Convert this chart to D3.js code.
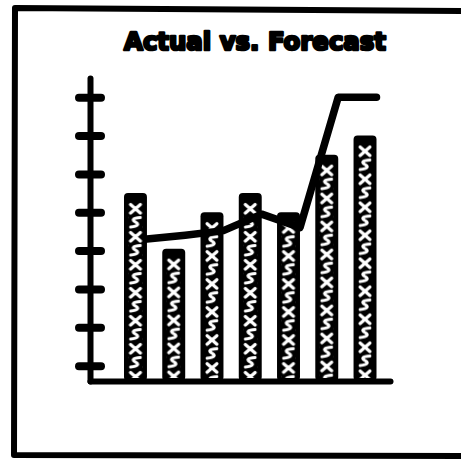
<!DOCTYPE html>
<html>
<head>
<meta charset="utf-8">
<script src="https://cdn.jsdelivr.net/npm/d3@7"></script>
<style>
  html, body { margin: 0; padding: 0; background: #fff; }
  svg { display: block; }
</style>
</head>
<body>
<script>
// Chart data
const title = "Actual vs. Forecast";
const periods = ["P1", "P2", "P3", "P4", "P5", "P6", "P7"];
const actual = [5.5, 4.05, 5.0, 5.5, 5.0, 6.5, 7.0];
const forecast = [4.3, 4.4, 4.52, 4.95, 4.6, 8.0, 8.0];
const tickValues = [1, 2, 3, 4, 5, 6, 7, 8];
const baseValue = 0.6;

const W = 461, H = 459;
const svg = d3.select("body").append("svg").attr("width", W).attr("height", H);
const defs = svg.append("defs");

// Outer frame (open on the right)
svg.append("path")
  .attr("d", "M461,11 L15,8 L14,455 L461,456")
  .attr("fill", "none").attr("stroke", "#000")
  .attr("stroke-width", 6).attr("stroke-linejoin", "round");

// Title
svg.append("text")
  .attr("x", 255).attr("y", 50)
  .attr("text-anchor", "middle")
  .attr("font-family", "DejaVu Sans, sans-serif")
  .attr("font-weight", "bold")
  .attr("font-size", 25)
  .attr("textLength", 262)
  .attr("lengthAdjust", "spacingAndGlyphs")
  .attr("stroke", "#000").attr("stroke-width", 2.6)
  .attr("stroke-linejoin", "round")
  .text(title);

// Scales
const y = d3.scaleLinear().domain([baseValue, 8.5]).range([381, 78]);
const x = d3.scaleBand().domain(periods).range([124, 376.5])
  .paddingInner(0.4).paddingOuter(0);
const axisX = 90;

// Bars: black body with a textured inner column
const bw = x.bandwidth();
const inset = 4.5;
const tw = bw - 2 * inset;
periods.forEach((p, i) => {
  const pat = defs.append("pattern")
    .attr("id", "tex" + i)
    .attr("patternUnits", "userSpaceOnUse")
    .attr("x", x(p) + inset).attr("y", y(actual[i]) + 9)
    .attr("width", tw).attr("height", 28);
  pat.append("rect").attr("width", tw).attr("height", 28).attr("fill", "#000");
  pat.append("path")
    .attr("d", `M${tw*0.15},2.5 L${tw*0.85},11 M${tw*0.85},2.5 L${tw*0.15},11 M${tw*0.5},6.5 L${tw*0.5},7`)
    .attr("stroke", "#fff").attr("stroke-width", 3.2)
    .attr("stroke-linecap", "round").attr("fill", "none");
  pat.append("path")
    .attr("d", `M${tw*0.85},15.5 Q${tw*0.05},16.5 ${tw*0.5},20 Q${tw*0.95},23.5 ${tw*0.15},25`)
    .attr("stroke", "#fff").attr("stroke-width", 3)
    .attr("stroke-linecap", "round").attr("fill", "none");
});

const bars = svg.append("g");
bars.selectAll("rect.bar").data(actual).join("rect")
  .attr("class", "bar")
  .attr("x", (d, i) => x(periods[i]))
  .attr("y", d => y(d))
  .attr("width", bw)
  .attr("height", d => y(baseValue) - y(d))
  .attr("rx", 4)
  .attr("fill", "#000");
bars.selectAll("rect.tex").data(actual).join("rect")
  .attr("class", "tex")
  .attr("x", (d, i) => x(periods[i]) + inset)
  .attr("y", d => y(d) + 9)
  .attr("width", tw)
  .attr("height", d => Math.max(0, y(baseValue) - y(d) - 12))
  .attr("fill", (d, i) => `url(#tex${i})`);

// Forecast line
const line = d3.line()
  .x((d, i) => x(periods[i]) + bw)
  .y(d => y(d));
svg.append("path")
  .datum(forecast)
  .attr("d", line)
  .attr("fill", "none")
  .attr("stroke", "#000")
  .attr("stroke-width", 7.5)
  .attr("stroke-linecap", "round")
  .attr("stroke-linejoin", "round");

// Y axis with cross-style ticks
const yAxis = svg.append("g")
  .attr("transform", `translate(${axisX},0)`)
  .call(d3.axisLeft(y).tickValues(tickValues).tickSize(12).tickSizeOuter(0).tickFormat(""));
yAxis.select(".domain").attr("stroke", "#000").attr("stroke-width", 6)
  .attr("stroke-linecap", "round");
yAxis.selectAll(".tick line")
  .attr("x1", 11).attr("x2", -11)
  .attr("stroke", "#000").attr("stroke-width", 8)
  .attr("stroke-linecap", "round");

// Baseline
const xAxisScale = d3.scaleLinear().domain([0, 1]).range([axisX, 390]);
const xAxis = svg.append("g")
  .attr("transform", `translate(0,${y(baseValue)})`)
  .call(d3.axisBottom(xAxisScale).tickValues([]).tickSizeOuter(0));
xAxis.select(".domain").attr("stroke", "#000").attr("stroke-width", 6)
  .attr("stroke-linecap", "round");
</script>
</body>
</html>
